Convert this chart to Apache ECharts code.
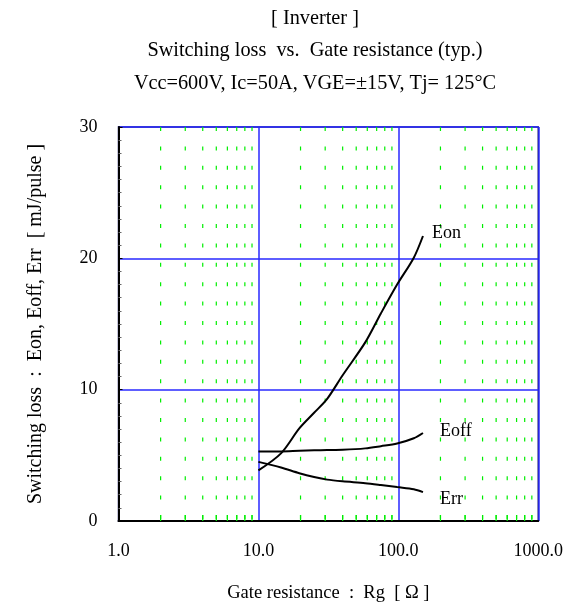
<!DOCTYPE html>
<html>
<head>
<meta charset="utf-8">
<script src="https://cdn.jsdelivr.net/npm/echarts@6/dist/echarts.min.js"></script>
<style>html,body{margin:0;padding:0;background:#fff;}#c{width:566px;height:608px;}</style>
</head>
<body>
<div id="c"></div>
<script>
const rg   = [10, 14.5, 19.6, 25, 31, 40, 58, 75, 98, 129, 150];
const eon  = [3.85, 5.15, 7.05, 8.24, 9.3, 11.1, 13.6, 15.8, 18.0, 20.05, 21.7];
const eoff = [5.3, 5.3, 5.35, 5.38, 5.4, 5.42, 5.53, 5.7, 5.9, 6.3, 6.7];
const err  = [4.5, 4.07, 3.64, 3.35, 3.15, 3.02, 2.88, 2.74, 2.58, 2.42, 2.2];
const minorX = [2,3,4,5,6,7,8,9,20,30,40,50,60,70,80,90,200,300,400,500,600,700,800,900];
const xTicks = [1, 10, 100, 1000];
const yTicks = [0, 10, 20, 30];

const FONT = '"Liberation Serif", "Times New Roman", serif';
const chart = echarts.init(document.getElementById('c'));
const zip = (xs, ys) => xs.map((x, i) => [x, ys[i]]);

function lineSeries(name, ys, off) {
  return {
    name, type: 'line', data: zip(rg, ys), smooth: 0.3, showSymbol: false,
    lineStyle: { color: '#000', width: 2 }, itemStyle: { color: '#000' }, z: 5,
    endLabel: { show: true, formatter: name, offset: off, fontFamily: FONT, fontSize: 18, color: '#000' }
  };
}

chart.setOption({
  animation: false,
  title: {
    text: '[ Inverter ]\nSwitching loss  vs.  Gate resistance (typ.)\nVcc=600V, Ic=50A, VGE=±15V, Tj= 125°C',
    left: 315, top: 2, padding: 0, textAlign: 'center',
    textStyle: { fontFamily: FONT, fontSize: 20.3, fontWeight: 'normal', color: '#000', lineHeight: 32.5 }
  },
  grid: { left: 118.5, right: 26, top: 127, bottom: 84, show: true, borderColor: '#1a1a70', borderWidth: 1.5 },
  xAxis: {
    type: 'log', logBase: 10, min: xTicks[0], max: xTicks[xTicks.length - 1],
    name: 'Gate resistance  :  Rg  [ Ω ]', nameLocation: 'middle', nameGap: 63,
    nameTextStyle: { fontFamily: FONT, fontSize: 18.5, color: '#000' },
    axisLine: { show: true, lineStyle: { color: '#000', width: 2 } },
    axisTick: { show: false },
    axisLabel: { formatter: v => Number(v).toFixed(1), fontFamily: FONT, fontSize: 18, color: '#000', margin: 21 },
    splitLine: { show: true, lineStyle: { color: 'rgb(40,40,255)', width: 1.5 } }
  },
  yAxis: {
    type: 'value', min: yTicks[0], max: yTicks[yTicks.length - 1], interval: 10,
    name: 'Switching loss  :  Eon, Eoff, Err  [ mJ/pulse ]', nameLocation: 'middle', nameGap: 73,
    nameTextStyle: { fontFamily: FONT, fontSize: 20, color: '#000' },
    axisLine: { show: true, lineStyle: { color: '#000', width: 2 } },
    axisTick: { show: true, inside: true, length: 4, lineStyle: { color: '#000' } },
    minorTick: { show: true, splitNumber: 10, length: 3, lineStyle: { color: '#666' } },
    axisLabel: { fontFamily: FONT, fontSize: 18, color: '#000', margin: 21 },
    splitLine: { show: true, lineStyle: { color: 'rgb(40,40,255)', width: 1.5 } }
  },
  series: [
    {
      type: 'custom', z: 1, silent: true,
      data: minorX.map(v => [v, 0]),
      encode: { x: 0, y: 1 },
      renderItem: function (params, api) {
        const x = api.value(0);
        const top = api.coord([x, yTicks[yTicks.length - 1]]);
        const bot = api.coord([x, yTicks[0]]);
        return {
          type: 'group',
          children: [
            { type: 'line', shape: { x1: top[0], y1: top[1], x2: bot[0], y2: bot[1] },
              style: { stroke: '#00ee00', lineWidth: 1.2, lineDash: [4, 15.4] } },
            { type: 'line', shape: { x1: bot[0], y1: bot[1], x2: bot[0], y2: bot[1] - 6 },
              style: { stroke: '#00ee00', lineWidth: 1.2 } }
          ]
        };
      }
    },
    lineSeries('Eon', eon, [1, -3]),
    lineSeries('Eoff', eoff, [9, -2]),
    lineSeries('Err', err, [9, 7])
  ]
});
</script>
</body>
</html>
